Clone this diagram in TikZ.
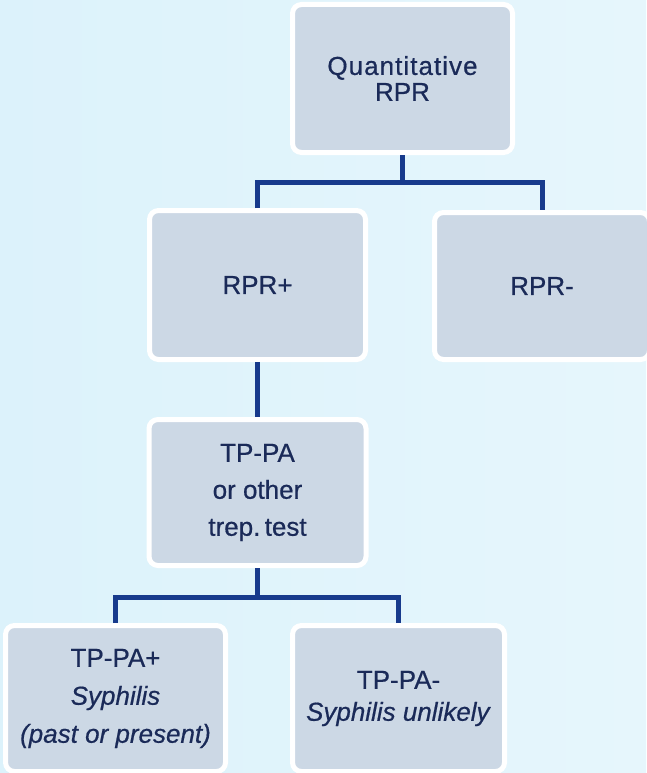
\documentclass[tikz,border=0pt]{standalone}
\usepackage{fontspec}
\setmainfont{Liberation Sans}[FakeBold=0.6]
\definecolor{bgA}{HTML}{DCF2FB}
\definecolor{bgB}{HTML}{E6F6FC}
\definecolor{boxfill}{HTML}{CCD8E5}
\definecolor{txt}{HTML}{1A2A58}
\definecolor{navy}{HTML}{173A8C}
\tikzset{
  box/.style={draw=white, line width=5pt, fill=boxfill, rounded corners=9pt,
    text=txt, align=center, inner sep=0pt, font=\fontsize{26}{37}\selectfont},
  conn/.style={draw=navy, line width=5pt}
}
\begin{document}
\begin{tikzpicture}[x=1pt,y=-1pt]
\useasboundingbox (0,0) rectangle (646,773);
\shade[left color=bgA, right color=bgB] (0,0) rectangle (646,773);
% nodes
\node[box, minimum width=220pt, minimum height=148pt, font=\fontsize{26}{26}\selectfont] (q) at (402.5,78.5) {{\addfontfeature{LetterSpace=4}Quantitative}\\RPR};
\node[box, minimum width=216pt, minimum height=149pt] (rp) at (257.5,285) {RPR+};
\node[box, minimum width=215pt, minimum height=147pt] (rm) at (542,286) {RPR-};
\node[box, minimum width=217pt, minimum height=146pt] (tp) at (257.5,492.5) {TP-PA\\or other\\trep.\,test};
\node[box, minimum width=220pt, minimum height=146pt, font=\fontsize{26}{38}\selectfont] (tpp) at (115.5,698.5) {TP-PA+\\\textit{Syphilis}\\\textit{(past or present)}};
\node[box, minimum width=212pt, minimum height=146pt, font=\fontsize{26}{32}\selectfont] (tpm) at (398.5,698.5) {TP-PA-\\\textit{Syphilis unlikely}};
% junctions
\coordinate (j1) at (402.5,182);
\coordinate (j2) at (257.5,597);
% connectors
\path[conn] (q.south) -- (j1);
\path[conn] (rp.north) |- (j1) -| (rm.north);
\path[conn] (rp.south) -- (tp.north);
\path[conn] (tp.south) -- (j2);
\path[conn] (tpp.north) |- (j2) -| (tpm.north);
\end{tikzpicture}
\end{document}
